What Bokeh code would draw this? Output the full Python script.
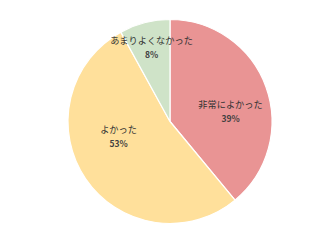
import math
from bokeh.plotting import figure
from bokeh.models import ColumnDataSource, Range1d
from bokeh.core.properties import value
from bokeh.embed import file_html
from bokeh.resources import INLINE

# Survey answers and their shares (%)
categories = ["非常によかった", "よかった", "あまりよくなかった"]
shares = [39, 53, 8]
colors = ["#E99494", "#FFE09B", "#CFE3C8"]

# Label anchors (screen px, y measured down from the top)
label_x = [230, 118, 151]
label_y = [110, 135, 46]

W, H = 320, 240
cx, cy, r = 169.5, H - 121, 102

# Slices start at 12 o'clock and run clockwise
total = sum(shares)
starts, ends = [], []
acc = 0.0
for s in shares:
    a0 = math.pi / 2 - 2 * math.pi * acc / total
    acc += s
    a1 = math.pi / 2 - 2 * math.pi * acc / total
    starts.append(a1)
    ends.append(a0)

src = ColumnDataSource(dict(start=starts, end=ends, color=colors))

p = figure(width=W, height=H, x_range=Range1d(0, W), y_range=Range1d(0, H),
           output_backend="svg", toolbar_location=None, min_border=0)
p.axis.visible = False
p.grid.visible = False
p.outline_line_color = None
p.background_fill_color = "white"

p.wedge(x=cx, y=cy, radius=r, start_angle="start", end_angle="end",
        fill_color="color", line_color="white", line_width=1.2, source=src)

lab = ColumnDataSource(dict(
    x=label_x,
    yt=[H - y + 7 for y in label_y],
    yp=[H - y - 7.5 for y in label_y],
    name=categories,
    pct=[f"{s}%" for s in shares],
))
p.text(x="x", y="yt", text="name", source=lab, text_align="center",
       text_baseline="middle", text_font=value("Noto Sans CJK JP"),
       text_font_size="9.2px", text_color="#333333")
p.text(x="x", y="yp", text="pct", source=lab, text_align="center",
       text_baseline="middle", text_font=value("Noto Sans CJK JP"),
       text_font_size="8.5px", text_font_style="bold", text_color="#404040")

open("out.html", "w").write(file_html(p, INLINE))
